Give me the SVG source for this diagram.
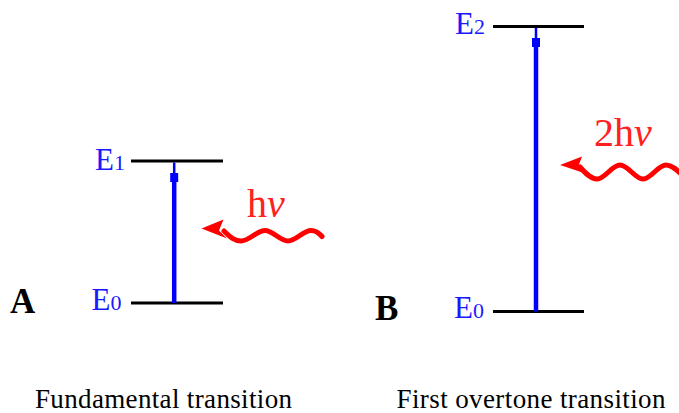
<svg xmlns="http://www.w3.org/2000/svg" width="679" height="413" viewBox="0 0 679 413">
<style>
.lvl{stroke:#000;stroke-width:3;fill:none}
.bl{stroke:#0000ff;stroke-width:4.5;fill:none}
.blt{stroke:#0000ff;stroke-width:2.5;fill:none}
.bh{fill:#0000ff}
.wave{stroke:#ff0000;stroke-width:5;fill:none;stroke-linecap:round}
.rh{fill:#ff0000}
.e{font-family:"Liberation Serif","Times New Roman",serif;fill:#1a1aff;font-size:31px}
.sub{font-size:22px}
.lab{font-family:"Liberation Serif","Times New Roman",serif;font-weight:bold;font-size:35px;fill:#000}
.hv{font-family:"Liberation Serif","Times New Roman",serif;fill:#ff2020;font-size:40px}
.cap{font-family:"Liberation Serif","Times New Roman",serif;fill:#000;font-size:27px}
</style>
<rect width="679" height="413" fill="#fff"/>
<g id="panelA">
  <g id="A-E1"><line class="lvl" x1="131" y1="161" x2="223" y2="161"/><text class="e" x="95" y="169.5">E<tspan class="sub">1</tspan></text></g>
  <g id="A-E0"><line class="lvl" x1="131" y1="303" x2="223" y2="303"/><text class="e" x="91.5" y="310">E<tspan class="sub">0</tspan></text></g>
  <text id="A-label" class="lab" x="10" y="312.5">A</text>
  <text id="A-hv" class="hv" x="247" y="216.5">h<tspan font-style="italic">ν</tspan></text>
</g>
<g id="panelB">
  <g id="B-E2"><line class="lvl" x1="493" y1="26.5" x2="584" y2="26.5"/><text class="e" x="455" y="34.3">E<tspan class="sub">2</tspan></text></g>
  <g id="B-E0"><line class="lvl" x1="493" y1="311.5" x2="584" y2="311.5"/><text class="e" x="454" y="318.3">E<tspan class="sub">0</tspan></text></g>
  <text id="B-label" class="lab" x="375" y="320">B</text>
  <text id="B-hv" class="hv" x="594" y="146" font-size="39">2h<tspan font-style="italic">ν</tspan></text>
</g>
<g id="connectors">
  <g id="A-transition">
    <line class="bl" x1="174.2" y1="303" x2="174.2" y2="181"/>
    <line class="blt" x1="174.2" y1="182" x2="174.2" y2="162.5"/>
    <rect class="bh" x="170.2" y="173" width="8" height="9"/>
  </g>
  <g id="B-transition">
    <line class="bl" x1="536" y1="311.5" x2="536" y2="46"/>
    <line class="blt" x1="536" y1="47" x2="536" y2="28"/>
    <rect class="bh" x="532" y="38" width="8" height="9"/>
  </g>
  <g id="A-photon">
    <path class="wave" d="M224,231 C231,238 235,241 241,241 C249,241 257,230.5 265,230.5 C273,230.5 280,241 288,241 C296,241 303,230.5 311,230.5 C316,230.5 319,233 322,236.5"/>
    <path class="rh" d="M201.5,228.5 L223.5,219.5 L219,230.5 L227,238.5 Z"/>
  </g>
  <g id="B-photon">
    <path class="wave" d="M580,167 C586,174 591,179 597,179 C605,179 612,165 620,165 C628,165 635,179 643,179 C651,179 658,165 666,165 C672,165 677,170 682,175"/>
    <path class="rh" d="M560,165 L582,156.5 L578,167 L585.5,173.5 Z"/>
  </g>
</g>
<text id="capA" class="cap" x="35" y="407.5" textLength="257" lengthAdjust="spacing">Fundamental transition</text>
<text id="capB" class="cap" x="396.5" y="407.5" textLength="269" lengthAdjust="spacing">First overtone transition</text>
</svg>
